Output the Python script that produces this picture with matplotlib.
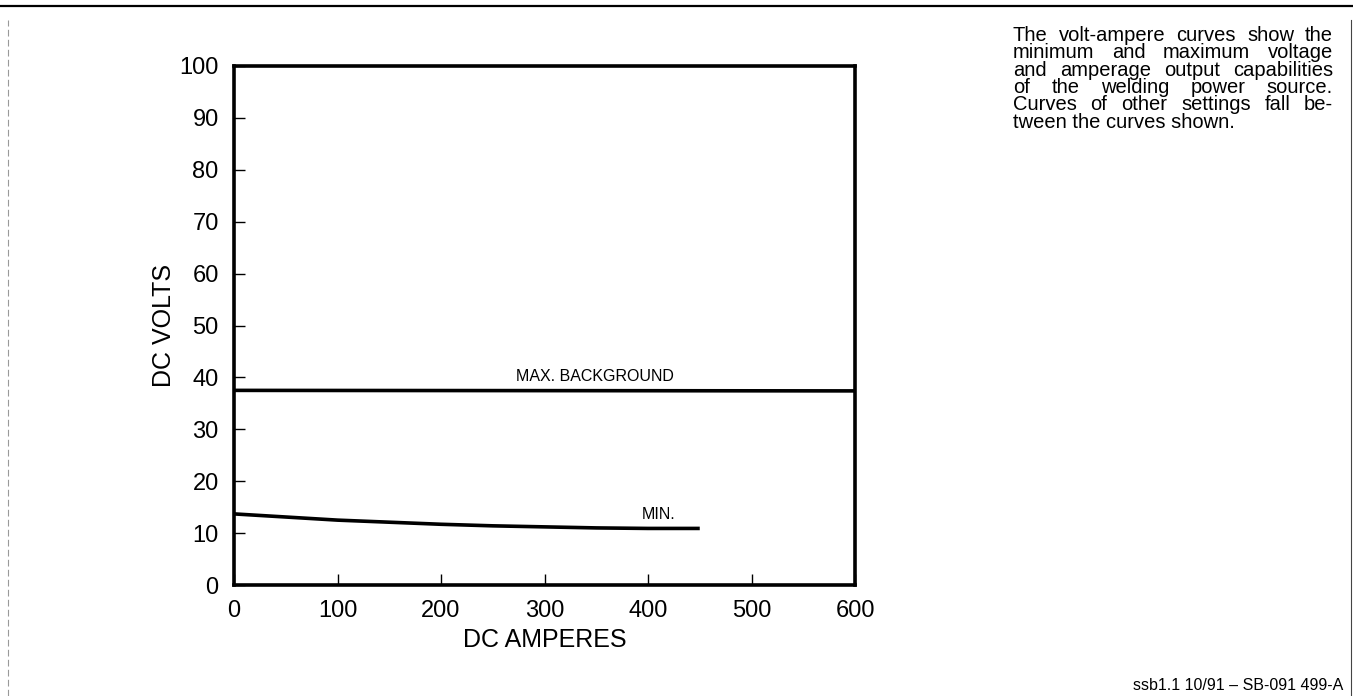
import matplotlib.pyplot as plt
from matplotlib.lines import Line2D

plt.rcParams["font.family"] = ["Liberation Sans", "DejaVu Sans"]

# curve data
max_amps = [0, 600]
max_volts = [37.5, 37.4]
min_amps = [0, 50, 100, 150, 200, 250, 300, 350, 400, 450]
min_volts = [13.7, 13.1, 12.5, 12.1, 11.7, 11.4, 11.2, 11.0, 10.9, 10.9]
x_ticks = [0, 100, 200, 300, 400, 500, 600]
y_ticks = [0, 10, 20, 30, 40, 50, 60, 70, 80, 90, 100]

note_lines = [
    "The volt-ampere curves show the",
    "minimum and maximum voltage",
    "and amperage output capabilities",
    "of the welding power source.",
    "Curves of other settings fall be-",
    "tween the curves shown.",
]
footer = "ssb1.1 10/91 \u2013 SB-091 499-A"

W, H = 1353, 696
fig = plt.figure(figsize=(W / 100, H / 100), dpi=100)
ax = fig.add_axes([234 / W, 1 - 585 / H, 621 / W, 519 / H])

ax.plot(max_amps, max_volts, color="black", lw=2.6, solid_capstyle="butt")
ax.plot(min_amps, min_volts, color="black", lw=2.6, solid_capstyle="butt")

ax.set_xlim(0, 600)
ax.set_ylim(0, 100)
ax.set_xticks(x_ticks)
ax.set_yticks(y_ticks)
ax.tick_params(axis="both", direction="in", length=8, width=1, labelsize=17)
ax.tick_params(axis="x", pad=11)
ax.tick_params(axis="y", pad=11)
for s in ax.spines.values():
    s.set_linewidth(2.6)

ax.set_xlabel("DC AMPERES", fontsize=18)
ax.set_ylabel("DC VOLTS", fontsize=18)
ax.xaxis.set_label_coords(0.5, -0.083)
ax.yaxis.set_label_coords(-0.094, 0.5)

ax.text(349, 38.8, "MAX. BACKGROUND", fontsize=11.5, ha="center", va="bottom")
ax.text(410, 12.2, "MIN.", fontsize=11.5, ha="center", va="bottom")

# justified note block at the top right
left, right = 1013, 1333
fig.canvas.draw()
r = fig.canvas.get_renderer()
for i, line in enumerate(note_lines):
    y = 1 - (41 + i * 17.3) / H
    words = line.split()
    if i == len(note_lines) - 1:
        fig.text(left / W, y, line, fontsize=14.5, va="baseline")
        continue
    arts = [fig.text(0, y, w_, fontsize=14.5, va="baseline") for w_ in words]
    widths = [a.get_window_extent(r).width for a in arts]
    gap = (right - left - sum(widths)) / (len(words) - 1)
    x = left
    for a, wd in zip(arts, widths):
        a.set_x(x / W)
        x += wd + gap

fig.text(1343 / W, 1 - 690 / H, footer, fontsize=11.5, ha="right", va="baseline")

# page borders from the scan
fig.add_artist(Line2D([0, 1], [1 - 6 / H, 1 - 6 / H], color="black", lw=1.6))
fig.add_artist(Line2D([8 / W, 8 / W], [0, 1 - 20 / H], color="#999999", lw=0.8, ls=(0, (6, 3))))
fig.add_artist(Line2D([1351 / W, 1351 / W], [0, 1 - 20 / H], color="#444444", lw=0.8))

fig.savefig("out.png", dpi=100)
